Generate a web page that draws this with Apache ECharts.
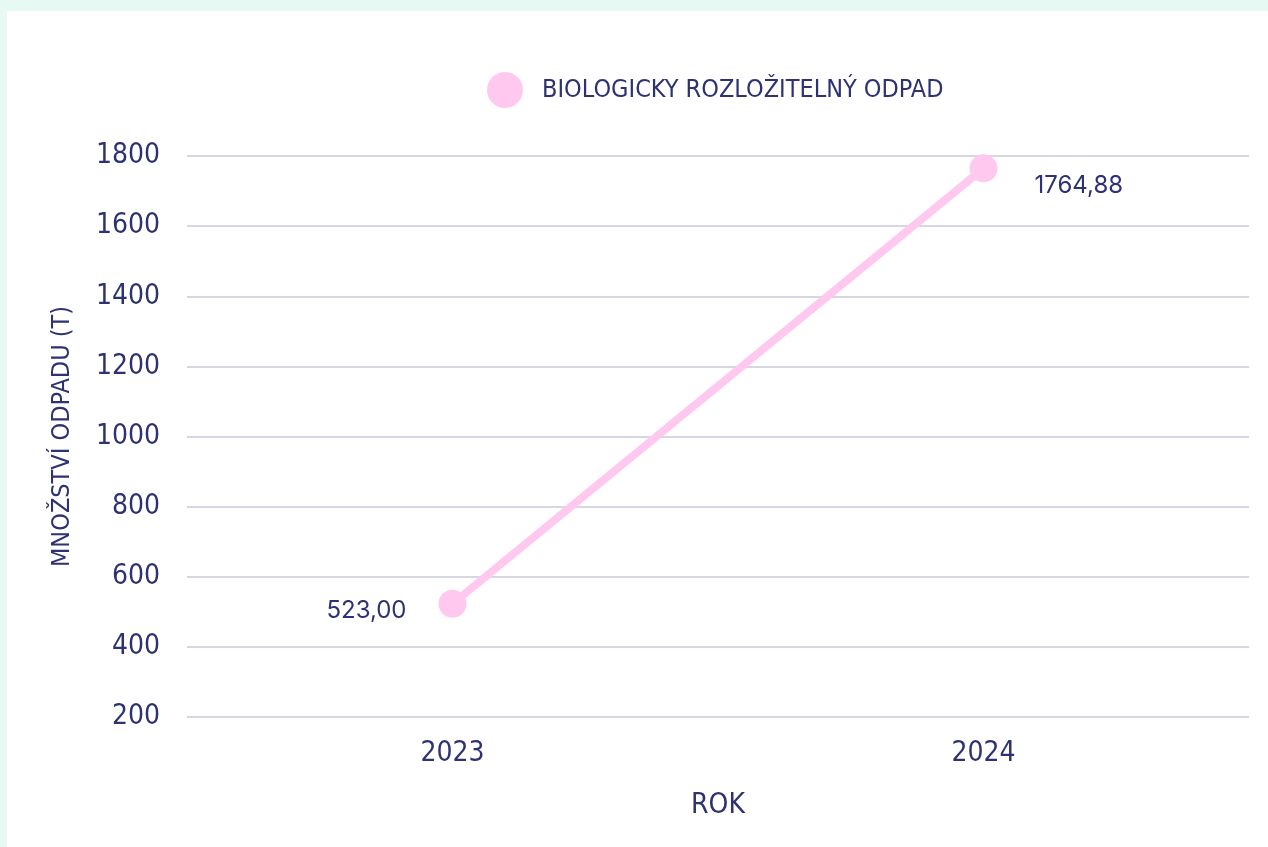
<!DOCTYPE html>
<html><head><meta charset="utf-8">
<script src="https://cdn.jsdelivr.net/npm/echarts@6/dist/echarts.min.js"></script>
<style>
html,body{margin:0;padding:0;width:1268px;height:847px;background:#e6faf3;overflow:hidden;}
#panel{position:absolute;left:7px;top:11px;width:1261px;height:836px;background:#ffffff;}
#chart{position:absolute;left:0;top:0;width:1268px;height:847px;}
</style></head>
<body>
<div id="panel"></div>
<div id="chart"></div>
<script>
const categories = ['2023', '2024'];
const seriesName = 'BIOLOGICKY ROZLOŽITELNÝ ODPAD';
const values = [523.00, 1764.88];
const yTicks = { min: 200, max: 1800, interval: 200 };

const navy = '#2e3270';
const pink = '#ffc9ef';
const condensed = '"DejaVu Sans Condensed", "Liberation Sans Narrow", sans-serif';

const labelCfg = [
  { position: 'left', distance: 32, offset: [0, 7] },
  { position: 'right', distance: 37, offset: [0, 17] }
];

const chart = echarts.init(document.getElementById('chart'));
chart.setOption({
  backgroundColor: 'transparent',
  legend: {
    left: 482, top: 67,
    itemWidth: 36, itemHeight: 36,
    icon: 'circle',
    textStyle: { color: navy, fontFamily: condensed, fontSize: 25, padding: [2, 0, 0, 14] },
    data: [seriesName]
  },
  grid: { left: 187, right: 19, top: 156, bottom: 130 },
  xAxis: {
    type: 'category',
    data: categories,
    boundaryGap: true,
    axisLine: { show: false },
    axisTick: { show: false },
    axisLabel: { color: navy, fontFamily: condensed, fontSize: 28, margin: 23 },
    name: 'ROK',
    nameLocation: 'middle',
    nameGap: 75,
    nameTextStyle: { color: navy, fontFamily: condensed, fontSize: 28 }
  },
  yAxis: {
    type: 'value',
    min: yTicks.min, max: yTicks.max, interval: yTicks.interval,
    axisLine: { show: false },
    axisTick: { show: false },
    splitLine: { lineStyle: { color: '#c9c9dd', width: 1.5 } },
    axisLabel: { color: navy, fontFamily: condensed, fontSize: 28, margin: 27, padding: [4, 0, 0, 0], formatter: v => String(v) },
    name: 'MNOŽSTVÍ ODPADU (T)',
    nameLocation: 'middle',
    nameGap: 112,
    nameTextStyle: { color: navy, fontFamily: condensed, fontSize: 25 }
  },
  series: [{
    name: seriesName,
    type: 'line',
    data: values.map((v, i) => ({
      value: v,
      label: Object.assign({ show: true }, labelCfg[i])
    })),
    symbol: 'circle',
    symbolSize: 28,
    lineStyle: { color: pink, width: 8 },
    itemStyle: { color: pink },
    label: {
      show: true,
      color: navy,
      fontFamily: 'Inter, "Noto Sans", sans-serif',
      fontSize: 24,
      formatter: p => p.value.toFixed(2).replace('.', ',')
    },
    emphasis: { disabled: true },
    animation: false
  }]
});
</script>
</body></html>
